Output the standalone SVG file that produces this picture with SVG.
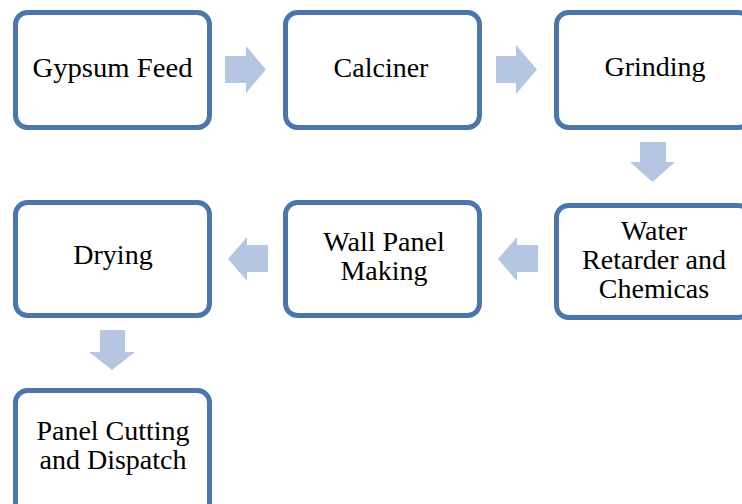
<svg xmlns="http://www.w3.org/2000/svg" width="742" height="504" viewBox="0 0 742 504">
<style>
.box{fill:#fff;stroke:#4a76ab;stroke-width:5}
.lbl{font-family:'Liberation Serif','Times New Roman',serif;font-size:28px;fill:#000;text-anchor:middle}
.arr{fill:#b4c6e1}
</style>
<rect width="742" height="504" fill="#fff"/>
<g id="connectors">
<path class="arr" d="M225,56H246V46L266,69.5L246,93V83H225Z"/>
<path class="arr" d="M496,56H516V45L537,69.5L516,94V83H496Z"/>
<path class="arr" d="M640,142H666V162H675L652.5,182L630,162H640Z"/>
<path class="arr" d="M538,245H517V237L498,259L517,281V272H538Z"/>
<path class="arr" d="M268,245H247V237L228,259L247,281V272H268Z"/>
<path class="arr" d="M100,330H125V352H135L112,370L89,352H100Z"/>
</g>
<g id="n1"><rect class="box" x="15.5" y="12.5" width="194" height="115" rx="12"/><text class="lbl" x="112.5" y="77" textLength="160" lengthAdjust="spacingAndGlyphs">Gypsum Feed</text></g>
<g id="n2"><rect class="box" x="285.5" y="12.5" width="194" height="115" rx="12"/><text class="lbl" x="381" y="77">Calciner</text></g>
<g id="n3"><rect class="box" x="556.5" y="12.5" width="194" height="115" rx="12"/><text class="lbl" x="655" y="76">Grinding</text></g>
<g id="n4"><rect class="box" x="556.5" y="205.5" width="194" height="112" rx="12"/><text class="lbl" x="654" y="240">Water</text><text class="lbl" x="654" y="269">Retarder and</text><text class="lbl" x="654" y="298">Chemicas</text></g>
<g id="n5"><rect class="box" x="285.5" y="202.5" width="194" height="113" rx="12"/><text class="lbl" x="384" y="251">Wall Panel</text><text class="lbl" x="384" y="280">Making</text></g>
<g id="n6"><rect class="box" x="15.5" y="202.5" width="194" height="113" rx="12"/><text class="lbl" x="113" y="264">Drying</text></g>
<g id="n7"><rect class="box" x="15.5" y="390.5" width="194" height="130" rx="12"/><text class="lbl" x="113" y="440">Panel Cutting</text><text class="lbl" x="113" y="469">and Dispatch</text></g>
</svg>
